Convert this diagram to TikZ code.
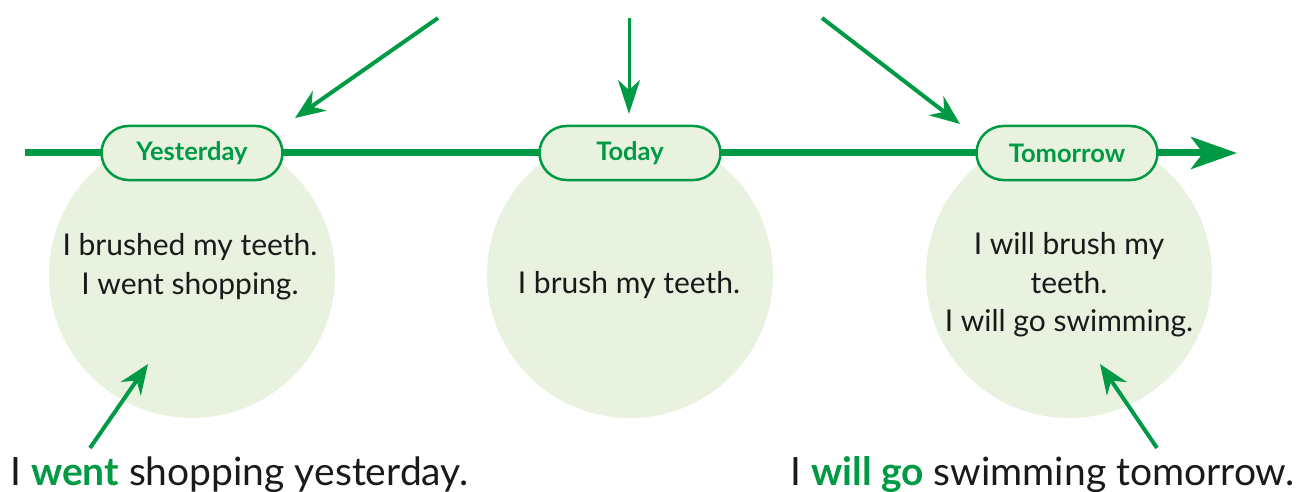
\documentclass[tikz,border=0pt]{standalone}
\usepackage{fontspec}
\setmainfont{Lato}
\usetikzlibrary{arrows.meta}
\definecolor{tgreen}{HTML}{009A44}
\definecolor{cfill}{HTML}{E8F2DF}
\definecolor{ink}{HTML}{1A1A1A}
\begin{document}
\begin{tikzpicture}[x=1pt,y=-1pt,
  pill/.style={draw=tgreen, line width=2.5pt, fill=cfill, rounded corners=27pt,
    minimum width=181pt, minimum height=54pt, inner sep=0pt,
    font=\fontsize{25.5}{28}\selectfont\bfseries, text=tgreen},
  bubble/.style={circle, fill=cfill, minimum size=286pt, inner sep=0pt},
  body/.style={font=\fontsize{30}{38.5}\selectfont, text=ink, align=center},
  caption/.style={font=\fontsize{39}{44}\selectfont, text=ink, inner sep=0pt},
  pointer/.style={draw=tgreen, line width=4pt, -{Stealth[length=30pt,width=24pt,inset=10pt]}},
  thinpointer/.style={draw=tgreen, line width=3pt, -{Stealth[length=34pt,width=22pt,inset=10pt]}},
  timeline/.style={draw=tgreen, line width=7pt, -{Stealth[length=46pt,width=32pt,inset=12pt]}},
]
\useasboundingbox (0,0) rectangle (1301,492);
% bubbles
\node[bubble] (cy) at (192,275) {};
\node[bubble] (ct) at (630,275) {};
\node[bubble] (cm) at (1069,275) {};
% timeline
\coordinate (t0) at (25,153);
\coordinate (t1) at (1237,153);
\draw[timeline] (t0) -- (t1);
% pills
\node[pill] (py) at (192,153) {Yesterday};
\node[pill] (pt) at (630,153) {Today};
\node[pill] (pm) at (1067,153) {Tomorrow};
% bubble texts
\node[body] (ty) at (190,266.5) {I brushed my teeth.\\I went shopping.};
\node[body] (tt) at (629,285.5) {I brush my teeth.};
\node[body] (tm) at (1069,285) {I will brush my\\teeth.\\I will go swimming.};
% top pointers
\coordinate (a1s) at (438,18);  \coordinate (a1e) at (295,118);
\coordinate (a2s) at (629,18);  \coordinate (a2e) at (629,114);
\coordinate (a3s) at (822,18);  \coordinate (a3e) at (960,124);
\draw[pointer] (a1s) -- (a1e);
\draw[thinpointer] (a2s) -- (a2e);
\draw[pointer] (a3s) -- (a3e);
% captions
\node[caption, anchor=base west] (capy) at (10,485) {I \textcolor{tgreen}{\bfseries went} shopping yesterday.};
\node[caption, anchor=base east] (capm) at (1295,485) {I \textcolor{tgreen}{\bfseries will go} swimming tomorrow.};
% bottom pointers
\coordinate (b1s) at (90,448);   \coordinate (b1e) at (148,364);
\coordinate (b2s) at (1157,448); \coordinate (b2e) at (1100,364);
\draw[pointer] (b1s) -- (b1e);
\draw[pointer] (b2s) -- (b2e);
\end{tikzpicture}
\end{document}
